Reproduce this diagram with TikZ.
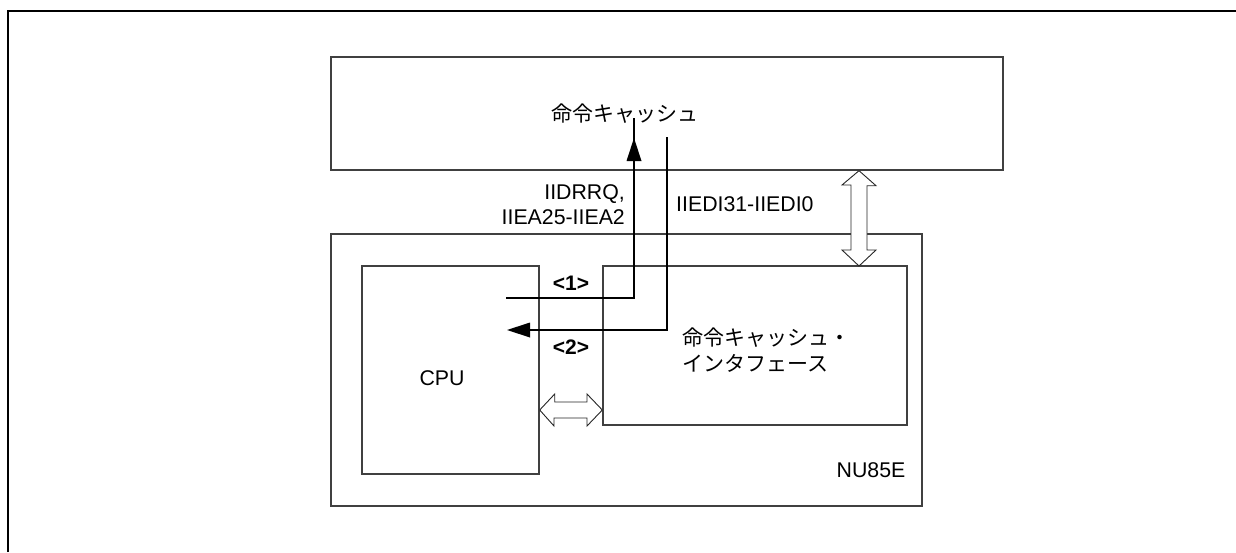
\documentclass[tikz,border=0pt]{standalone}
\usepackage{fontspec}
\setmainfont{Liberation Sans}
\newfontfamily\jp{Noto Sans CJK JP}
\begin{document}
\begin{tikzpicture}[x=1pt,y=-1pt,
  box/.style={draw=black!75,line width=1.4pt,inner sep=0pt},
  sig/.style={line width=2.6pt,line join=miter},
  hollow/.style={draw=black!85,line width=0.9pt,fill=white},
  lbl/.style={inner sep=0pt,font=\fontsize{21.3}{25}\selectfont},
  jlbl/.style={inner sep=0pt,font=\fontsize{21}{26}\selectfont\jp}]
\useasboundingbox (0,0) rectangle (1236,552);
% outer frame
\coordinate (fbl) at (8,552);
\coordinate (ftl) at (8,11);
\coordinate (ftr) at (1236,11);
\draw[line width=1.8pt] (fbl) -- (ftl) -- (ftr);
% boxes
\node[box,minimum width=672pt,minimum height=113pt] (cache) at (667,113.5) {};
\node[box,minimum width=591pt,minimum height=272pt] (nu) at (626.5,370) {};
\node[box,minimum width=177pt,minimum height=208pt] (cpu) at (450.5,370) {};
\node[box,minimum width=304pt,minimum height=159pt] (ifc) at (755,345.5) {};
% texts
\node[jlbl] (tcache) at (625,114) {命令キャッシュ};
\node[lbl,anchor=east,align=right] (treq) at (625,204.5) {IIDRRQ,\\IIEA25-IIEA2};
\node[lbl,anchor=west] (tdat) at (676,204) {IIEDI31-IIEDI0};
\node[lbl,font=\fontsize{21}{25}\selectfont\bfseries] (t1) at (571,283) {<1>};
\node[lbl,font=\fontsize{21}{25}\selectfont\bfseries] (t2) at (571,347) {<2>};
\node[lbl] (tcpu) at (442,378) {CPU};
\node[jlbl,anchor=west,align=left] (tifc) at (682,350) {命令キャッシュ・\\インタフェース};
\node[lbl] (tnu) at (871,470) {NU85E};
% signal arrows
\coordinate (s1a) at (506,298);
\coordinate (s1b) at (634,298);
\coordinate (s1c) at (634,138);
\coordinate (s2a) at (667,137);
\coordinate (s2b) at (667,330);
\coordinate (s2c) at (507,330);
\draw[sig] (s1a) -- (s1b) -- ([yshift=20]s1c);
\fill (s1c) -- ++(-7.5,23) -- ++(15,0) -- cycle;
\draw[sig] (s2a) -- (s2b) -- ([xshift=20]s2c);
\fill (s2c) -- ++(23,-7.5) -- ++(0,15) -- cycle;
% hollow double arrows
\draw[hollow] (cache.south -| 859,0) coordinate (va)
  -- ++(17,15) -- ++(-9,0) -- (867,250) -- (876,250) -- (859,266) coordinate (vb)
  -- (842,250) -- (851,250) -- (851,185) -- (842,185) -- cycle;
\draw[hollow] (cpu.east |- 0,410) coordinate (ha)
  -- ++(15,-16) -- ++(0,8) -- (587,402) -- (587,394) -- (ifc.west |- 0,410) coordinate (hb)
  -- (587,426) -- (587,418) -- (554,418) -- (554,426) -- cycle;
\end{tikzpicture}
\end{document}
